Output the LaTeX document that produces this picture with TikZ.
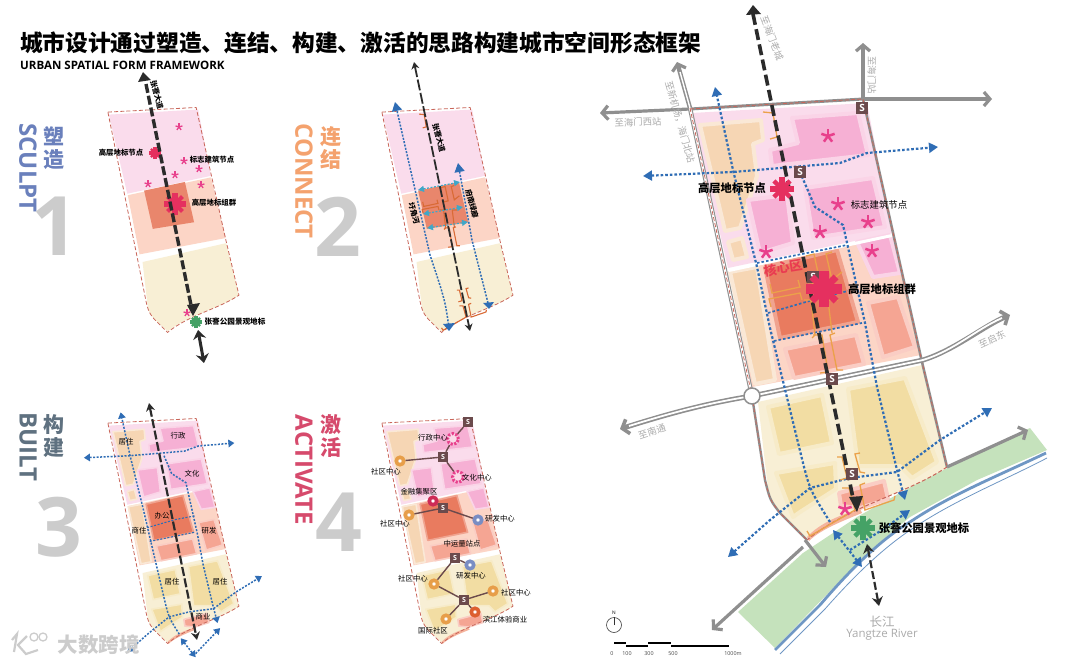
\documentclass[tikz,border=0pt]{standalone}
\usepackage{fontspec}
\setmainfont{Open Sans}
\newfontfamily\cjk{Noto Sans CJK SC}
\usetikzlibrary{arrows.meta}
\definecolor{cPink}{HTML}{FADCEC}
\definecolor{cPeach}{HTML}{FCD5C6}
\definecolor{cCream}{HTML}{F8EFD5}
\definecolor{cCore}{HTML}{E9866C}
\definecolor{cBlue}{HTML}{2F6DB5}
\definecolor{cTeal}{HTML}{3FA7C8}
\definecolor{cRoad}{HTML}{8F8F8F}
\definecolor{cRed}{HTML}{C9665A}
\definecolor{cS}{HTML}{6B4A4C}
\definecolor{cHot}{HTML}{E5305F}
\definecolor{cStar}{HTML}{E8408C}
\definecolor{cGreen}{HTML}{45A266}
\definecolor{cRiver}{HTML}{C5E2BC}
\definecolor{cRiverB}{HTML}{6F97C4}
\definecolor{cAxis}{HTML}{2B2B2B}
\definecolor{cGreyT}{HTML}{ABABAB}
\definecolor{cNum}{HTML}{CCCCCC}
\definecolor{cOr}{HTML}{F6D6B4}
\definecolor{cHotP}{HTML}{F6B0D4}
\definecolor{cCoreD}{HTML}{E97B5F}
\definecolor{cSal}{HTML}{F5A593}
\definecolor{cYel}{HTML}{F2DDA3}
\definecolor{cSc}{HTML}{6A80BC}
\definecolor{cCo}{HTML}{F4A26E}
\definecolor{cBu}{HTML}{5F7180}
\definecolor{cAc}{HTML}{D64A6C}
\definecolor{cBrk}{HTML}{EBA14A}
\definecolor{cBrkD}{HTML}{D96A35}
\tikzset{
  blueline/.style={draw=cBlue,line width=2.2pt,dash pattern=on 2.6pt off 2pt},
  blueend/.style={-{Triangle[length=9pt,width=10pt]}},
  bluetwo/.style={{Triangle[length=9pt,width=10pt]}-{Triangle[length=9pt,width=10pt]}},
  thinblue/.style={draw=cBlue,line width=1.1pt,dash pattern=on 2pt off 1.6pt},
  axisline/.style={draw=cAxis,line width=3.6pt,dash pattern=on 11pt off 4.5pt},
  roadbarb/.style={draw=cRoad,line width=3.2pt,-{Straight Barb[length=6pt,width=14pt,line width=3.2pt]}},
  outlinered/.style={draw=cRed,line width=.8pt,dash pattern=on 4pt off 2.2pt},
  brk/.style={draw=cBrk,line width=1.3pt},
  sbadge/.style={fill=cS,text=white,font=\bfseries\fontsize{7}{7}\selectfont,minimum size=10pt,inner sep=0pt},
  sbadgeb/.style={fill=cS,text=white,font=\bfseries\fontsize{10}{10}\selectfont,minimum size=12.5pt,inner sep=0pt},
  lbl/.style={font=\cjk\fontsize{7.4}{7.4}\selectfont,inner sep=0pt,text=black},
  lblb/.style={font=\cjk\bfseries\fontsize{7.4}{7.4}\selectfont,inner sep=0pt,text=black},
  lblmain/.style={font=\cjk\bfseries\fontsize{11.3}{11.3}\selectfont,inner sep=0pt,text=black},
  greyl/.style={font=\cjk\fontsize{9.4}{9.4}\selectfont,inner sep=0pt,text=cGreyT},
  headcn/.style={font=\cjk\bfseries\fontsize{21}{23}\selectfont,inner sep=0pt,align=center},
  headen/.style={font=\bfseries\fontsize{24}{24}\selectfont,inner sep=0pt,rotate=-90},
  bignum/.style={font=\bfseries\fontsize{82}{82}\selectfont,inner sep=0pt,text=cNum},
  ringc/.style={circle,draw=#1,line width=3.6pt,fill=white,minimum size=7.5pt,inner sep=0pt},
  ringd/.style={circle,draw=#1,line width=3pt,dash pattern=on 2.2pt off 1.6pt,fill=#1!20,minimum size=11pt,inner sep=0pt},
  link/.style={draw=cS,line width=1.4pt},
}
% map shape in main-map coordinates
\newcommand\mapshape{(690,108) -- (863,99) -- (922,362) -- (947,467) .. controls (905,495) and (850,505) .. (807,540) -- (780,513) .. controls (770,500) .. (765,480) -- cycle}
\newcommand\zonesbase{%
  \fill[cPink] (692,113) -- (867,103) -- (892,233) -- (728,268) -- cycle;
  \fill[cPeach] (729,271) -- (892,236) -- (921,355) -- (752,387) -- cycle;
  \fill[cCream] (758,402) -- (922,365) -- (947,467) .. controls (905,495) and (850,505) .. (807,538) -- (780,513) .. controls (770,500) .. (767,480) -- cycle;
}
\newcommand\coreblock{\fill[cCore] (761,262) -- (841,245) -- (859,324) -- (778,337) -- cycle;}
\newcommand\zonesdetail[1]{%
  \begin{scope}[line width=#1,line join=round]
  \filldraw[fill=cOr,draw=cOr!55!white] (700,125) -- (761,120) -- (763,140) -- (753,144) -- (757,176) -- (740,228) -- (725,231) -- cycle;
  \filldraw[fill=cOr,draw=cOr!55!white] (728,242) -- (742,238) -- (747,257) -- (733,260) -- cycle;
  \filldraw[fill=cOr,draw=cOr!55!white] (730,272) -- (757,267) -- (775,380) -- (755,384) -- cycle;
  \filldraw[fill=cHotP,draw=cHotP!55!white] (770,150) -- (798,143) -- (792,118) -- (858,113) -- (868,155) -- (772,166) -- cycle;
  \filldraw[fill=cHotP,draw=cHotP!55!white] (748,200) -- (787,195) -- (793,243) -- (760,253) -- cycle;
  \filldraw[fill=cHotP,draw=cHotP!55!white] (805,188) -- (873,178) -- (885,227) -- (813,238) -- cycle;
  \filldraw[fill=cHotP,draw=cHotP!55!white] (857,242) -- (890,235) -- (900,273) -- (873,277) -- cycle;
  \filldraw[fill=cCoreD,draw=cCoreD!70!white] (765,267) -- (837,250) -- (858,322) -- (780,338) -- cycle;
  \filldraw[fill=cSal,draw=cSal!55!white] (785,349) -- (856,335) -- (864,364) -- (794,378) -- cycle;
  \filldraw[fill=cSal,draw=cSal!55!white] (868,303) -- (898,297) -- (915,347) -- (883,357) -- cycle;
  \filldraw[fill=cYel,draw=cYel!60!white] (768,407) -- (822,395) -- (832,443) -- (779,454) -- cycle;
  \filldraw[fill=cYel,draw=cYel!60!white] (848,389) -- (905,378) -- (937,462) -- (912,478) -- (900,466) -- (858,466) -- cycle;
  \filldraw[fill=cYel,draw=cYel!60!white] (776,473) -- (835,463) -- (836,489) -- (800,512) -- (793,517) -- cycle;
  \filldraw[fill=cSal,draw=cSal!55!white] (839,493) -- (884,481) -- (888,499) -- (860,508) -- (841,506) -- cycle;
  \end{scope}
  \fill[cSal!70!cOr] (807,537) .. controls (820,523) and (840,515) .. (860,509) -- (862,513) .. controls (840,522) and (820,530) .. (809,541) -- cycle;
}
\newcommand\bracketset{%
  \draw[brk] (763,112) -- (773,113) -- (777,137) -- (770,139);
  \draw[brk] (813,335) -- (822,335) -- (828,372) -- (820,373);
  \draw[brk] (835,333) -- (830,335) -- (837,370) -- (843,370);
  \draw[brk] (837,457) -- (842,457) -- (847,478) -- (840,480);
  \draw[brk] (860,453) -- (855,454) -- (860,472) -- (865,473);
  \draw[brk] (842,488) -- (849,488) -- (855,510) -- (810,536) -- (807,531);
  \draw[brk] (865,483) -- (860,485) -- (865,510) -- (894,500) -- (895,496);
  \draw[brk] (770,284) -- (772,293) -- (800,287) -- (798,280);
  \draw[brk] (771,307) -- (769,299) -- (800,293) -- (802,300);
  \draw[brk] (806,256) -- (814,254) -- (820,282) -- (812,284);
  \draw[brk] (832,252) -- (826,254) -- (832,280) -- (842,272);
  \draw[brk] (804,300) -- (811,300) -- (815,335) -- (812,338);
  \draw[brk] (838,300) -- (828,300) -- (832,333);
}
\newcommand\pstar[4]{\foreach \a in {-90,-18,54,126,198}{\draw[#4,line width=#3*0.36pt] (#1,#2) -- ++(\a:#3);}}
\newcommand\pcross[4]{%
  \foreach \a in {0,90}{\draw[#4,line width=#3*0.55pt] (#1,#2) ++(\a:#3) -- ++(\a+180:2*#3);}
  \foreach \a in {45,135}{\draw[#4,line width=#3*0.38pt] (#1,#2) ++(\a:0.95*#3) -- ++(\a+180:1.9*#3);}
}
\begin{document}
\begin{tikzpicture}[x=1pt,y=-1pt]
\useasboundingbox[fill=white] (0,0) rectangle (1080,664);

% ------------ headings
\node[anchor=west,font=\cjk\bfseries\fontsize{22.7}{22.7}\selectfont,inner sep=0pt] (title) at (20,43) {城市设计通过塑造、连结、构建、激活的思路构建城市空间形态框架};
\node[anchor=west,font=\bfseries\fontsize{11.55}{11.55}\selectfont,inner sep=0pt] (subtitle) at (20,65) {URBAN SPATIAL FORM FRAMEWORK};

\node[headcn,text=cSc] (h1a) at (54,148) {塑\\造};
\node[headen,text=cSc] (h1b) at (28,168) {SCULPT};
\node[bignum] (n1) at (55,226) {1};
\node[headcn,text=cCo] (h2a) at (331,148) {连\\结};
\node[headen,text=cCo] (h2b) at (304,181) {CONNECT};
\node[bignum] (n2) at (338,227) {2};
\node[headcn,text=cBu] (h3a) at (54,436) {构\\建};
\node[headen,text=cBu] (h3b) at (28,447) {BUILT};
\node[bignum] (n3) at (59,527) {3};
\node[headcn,text=cAc] (h4a) at (331,436) {激\\活};
\node[headen,text=cAc] (h4b) at (304,470) {ACTIVATE};
\node[bignum] (n4) at (339,522) {4};

% ------------ PANEL 1
\begin{scope}[shift={(-244,57)},scale=.51]
  \zonesbase \coreblock
  \draw[outlinered] \mapshape;
\end{scope}
\foreach \x/\y in {179/127,184/161,199/169,175/175,148/184,201/185,187/313}{\pstar{\x}{\y}{3.6}{cStar}}
\pcross{155}{153}{6}{cHot}
\pcross{175}{204}{11}{cHot}
\pcross{196}{322}{6}{cGreen}
\draw[axisline,line width=3.4pt,dash pattern=on 9pt off 3pt] (146,84) -- (191,305);
\fill[cAxis] (143,72) -- (151,80) -- (138,82) -- cycle;
\fill[cAxis] (193,316) -- (187,305) -- (200,303) -- cycle;
\draw[cAxis,line width=3pt,{Stealth[length=9pt,width=13pt]}-{Stealth[length=9pt,width=13pt]}] (198,330) -- (204,363);
\node[lblb,rotate=-75] (t1a) at (157,95) {张謇大道};
\node[lblb] (t1b) at (121,153) {高层地标节点};
\node[lblb] (t1c) at (212,160) {标志建筑节点};
\node[lblb] (t1d) at (214,203) {高层地标组群};
\node[lblb,font=\cjk\bfseries\fontsize{7.6}{7.6}\selectfont] (t1e) at (235,322) {张謇公园景观地标};

% ------------ PANEL 2
\begin{scope}[shift={(30,57)},scale=.51]
  \zonesbase \coreblock
  \draw[outlinered] \mapshape;
  \begin{scope}[brk/.style={draw=cBrkD,line width=1.1pt}]
    \bracketset
  \end{scope}
\end{scope}
\draw[axisline,line width=1.8pt,dash pattern=on 11pt off 2.6pt,{Stealth[length=7pt,width=8pt]}-{Stealth[length=7pt,width=8pt]}] (414,62) -- (470,331);
\draw[blueline,line width=1.5pt,dash pattern=on 2pt off 1.4pt,blueend] (449,328) .. controls (445,300) .. (430,255) -- (395,102);
\draw[blueline,line width=1.5pt,dash pattern=on 2pt off 1.4pt,blueend] (488,303) -- (472,240) -- (458,163);
\fill[cBlue] (449,331) -- (443,324) -- (455,323) -- cycle;
\fill[cBlue] (489,309) -- (483,303) -- (494,302) -- cycle;
\foreach \xa/\ya/\xb/\yb in {418/190/460/182,423/214/463/207,427/228/468/222}{
  \draw[cTeal,line width=1.2pt,dash pattern=on 2pt off 1.5pt,{Triangle[length=6pt,width=6pt]}-{Triangle[length=6pt,width=6pt]}] (\xa,\ya) -- (\xb,\yb);}
\node[lblb,rotate=-75] (t2a) at (439,138) {张謇大道};
\node[lblb,rotate=-75] (t2b) at (472,204) {府南绿廊};
\node[lblb,rotate=-75] (t2c) at (414,213) {圩角河};

% ------------ PANEL 3
\begin{scope}[shift={(-244,368)},scale=.51]
  \zonesbase
  \zonesdetail{1.6pt}
  \draw[outlinered] \mapshape;
\end{scope}
\begin{scope}[shift={(-244,368)},scale=.51,blueline/.append style={line width=1.5pt,dash pattern=on 2pt off 1.5pt},
  blueend/.style={-{Triangle[length=6pt,width=7.5pt]}},bluetwo/.style={{Triangle[length=6pt,width=7.5pt]}-{Triangle[length=6pt,width=7.5pt]}}]
  \draw[blueline,blueend] (830,522) .. controls (810,490) .. (803,463) -- (757,267) -- (733,170) -- (715,87) ;
  \draw[blueline,blueend] (800,172) -- (815,207) -- (843,225) -- (865,323) -- (877,387) -- (897,470) -- (905,500);
  \draw[blueline,bluetwo] (643,176) -- (733,172) -- (840,163) -- (867,153) -- (938,147);
  \draw[blueline,bluetwo] (728,557) -- (770,520) -- (810,488) -- (850,478) -- (897,472) -- (940,440) -- (992,408);
  \draw[blueline,bluetwo] (833,530) -- (862,567);
  \draw[blueline,blueend] (862,560) -- (910,510);
  \draw[thinblue] (767,313) -- (823,297) -- (860,290);
  \draw[thinblue] (772,340) -- (860,322);
\end{scope}
\draw[axisline,line width=2.2pt,dash pattern=on 9pt off 2.6pt,{Stealth[length=8pt,width=9pt]}-{Stealth[length=8pt,width=9pt]}] (149,403) -- (197,640);
\node[lbl] (t3a) at (178,436) {行政};
\node[lbl] (t3b) at (126,442) {居住};
\node[lbl] (t3c) at (192,474) {文化};
\node[lbl] (t3d) at (162,516) {办公};
\node[lbl] (t3e) at (139,531) {商住};
\node[lbl] (t3f) at (209,531) {研发};
\node[lbl] (t3g) at (172,582) {居住};
\node[lbl] (t3h) at (220,582) {居住};
\node[lbl] (t3i) at (203,617) {商业};

% ------------ PANEL 4
\begin{scope}[shift={(30,368)},scale=.51]
  \zonesbase
  \zonesdetail{1.6pt}
  \draw[outlinered] \mapshape;
\end{scope}
\node[sbadge] (s1) at (468,422) {S};
\node[sbadge] (s2) at (443,457) {S};
\node[sbadge] (s3) at (443,508) {S};
\node[sbadge] (s4) at (455,558) {S};
\node[sbadge] (s5) at (464,600) {S};
\node[ringd=cStar] (r1) at (453,439) {};
\node[ringd=cStar] (r2) at (458,477) {};
\node[ringc=cBrk!90!brown] (r3) at (400,461) {};
\node[ringc=cHot!90!black] (r4) at (433,501) {};
\node[ringc=cBrk!90!brown] (r5) at (409,515) {};
\node[ringc=cSc!90!white] (r6) at (478,520) {};
\node[ringc=cSc!90!white] (r7) at (470,565) {};
\node[ringc=cBrk!90!brown] (r8) at (434,584) {};
\node[ringc=cBrk!90!brown] (r9) at (493,591) {};
\node[ringc=cBrkD!90!red] (r10) at (475,612) {};
\node[ringc=cBrk!90!brown] (r11) at (446,619) {};
\draw[link] (s1) -- (r1);
\draw[link] (r1) -- (s2);
\draw[link] (s2) -- (r3);
\draw[link] (s2) -- (r2);
\draw[link] (s3) -- (r4);
\draw[link] (s3) -- (r5);
\draw[link] (s3) -- (r6);
\draw[link] (s4) -- (r7);
\draw[link] (s4) -- (r8);
\draw[link] (r8) -- (s5);
\draw[link] (s5) -- (r9);
\draw[link] (s5) -- (r10);
\draw[link] (s5) -- (r11);
\node[lbl] (t4a) at (433,438) {行政中心};
\node[lbl] (t4b) at (386,472) {社区中心};
\node[lbl] (t4c) at (477,478) {文化中心};
\node[lbl] (t4d) at (419,492) {金融集聚区};
\node[lbl] (t4e) at (395,524) {社区中心};
\node[lbl] (t4f) at (500,519) {研发中心};
\node[lbl] (t4g) at (462,544) {中运量站点};
\node[lbl] (t4h) at (471,576) {研发中心};
\node[lbl] (t4i) at (413,579) {社区中心};
\node[lbl] (t4j) at (516,593) {社区中心};
\node[lbl] (t4k) at (505,620) {滨江体验商业};
\node[lbl] (t4l) at (433,631) {国际社区};

% ------------ watermark
\begin{scope}[draw=cNum,line width=2.2pt]
  \draw (12,640) -- (17,634) -- (14,652) ;
  \draw (27,636) -- (18,645) -- (26,654) -- (38,650);
  \draw[line width=1.3pt] (34,637) circle (4);
  \draw[line width=1.3pt] (43,637) circle (4);
\end{scope}
\node[font=\cjk\bfseries\fontsize{20.5}{20.5}\selectfont,text=cNum,inner sep=0pt] (wm) at (98.5,645) {大数跨境};

% ------------ MAIN MAP
\fill[cRiver] (738,612) -- (803,553) -- (857,517) -- (923,480) -- (1030,428) -- (1047,450) -- (977,480) -- (910,517) -- (867,553) -- (775,648) -- cycle;
\draw[cRiverB,line width=2.8pt] (775,650) -- (820,605) .. controls (850,570) and (880,540) .. (910,522) .. controls (950,495) and (1000,475) .. (1046,453);
\draw[cRiverB,line width=.8pt] (780,654) -- (825,609) .. controls (855,575) and (885,546) .. (915,527) .. controls (955,500) and (1005,480) .. (1047,458);

\zonesbase
\zonesdetail{4pt}
\fill[white] (727,269) -- (892,234) -- (892,237) -- (729,272) -- cycle;

% roads
\draw[roadbarb] (690,109) -- (600,113);
\draw[roadbarb] (863,99) -- (992,99);
\draw[roadbarb] (863,99) -- (863,43);
\draw[cRoad,line width=3pt] (690,109) -- (863,99);
\draw[roadbarb,line width=4.4pt] (690,108) -- (677,62);
\draw[white,line width=1.4pt] (690,108) -- (680,72);
\draw[cRoad,line width=4.4pt] (690,108) -- (752,396);
\draw[white,line width=2.2pt] (690,108) -- (752,396);
\draw[cRed,line width=.8pt,dash pattern=on 4pt off 2.2pt] (690,108) -- (752,396);
\draw[cRoad,line width=2.4pt] (752,396) -- (765,480) .. controls (770,500) .. (780,513) -- (807,540);
\draw[cRoad,line width=2.6pt] (863,99) -- (922,362) -- (947,467);
\draw[cRed,line width=.8pt,dash pattern=on 4pt off 2.2pt] (690,109) -- (863,99) -- (922,362) -- (947,467);
\draw[cRed,line width=.8pt,dash pattern=on 4pt off 2.2pt] (752,396) -- (765,480) .. controls (770,500) .. (780,513) -- (807,540);
\draw[cRed,line width=1pt,dash pattern=on 4pt off 2.2pt] (947,467) .. controls (905,495) and (850,505) .. (807,540);
\draw[roadbarb] (947,467) -- (1028,430);
\draw[roadbarb] (805,540) -- (826,567);
\draw[roadbarb] (803,547) -- (712,630);
% east-west road (double)
\draw[cRoad,line width=5pt,-{Straight Barb[length=6pt,width=15pt,line width=3.6pt]}] (752,396) .. controls (715,402) and (680,410) .. (620,429);
\draw[cRoad,line width=5pt,-{Straight Barb[length=6pt,width=15pt,line width=3.6pt]}] (752,396) -- (923,360) .. controls (955,350) and (985,325) .. (1010,315);
\draw[white,line width=1.8pt] (752,396) .. controls (715,402) and (680,410) .. (629,426);
\draw[white,line width=1.8pt] (752,396) -- (923,360) .. controls (955,350) and (975,330) .. (1002,318);
\node[circle,draw=cRoad,line width=1.5pt,fill=white,minimum size=16pt,inner sep=0pt] (rb) at (752,396) {};

% blue dotted
\draw[blueline,blueend] (830,522) .. controls (810,490) .. (803,463) -- (770,328) -- (757,267) -- (733,170) -- (715,87);
\draw[blueline,blueend] (800,172) -- (815,207) -- (843,225) -- (865,323) -- (877,387) -- (897,470) -- (905,500);
\draw[blueline,bluetwo] (643,176) -- (733,172) -- (840,163) -- (867,153) -- (938,147);
\draw[blueline,bluetwo] (728,557) -- (770,520) -- (810,488) -- (850,478) -- (897,472) -- (940,440) -- (992,408);
\draw[blueline,bluetwo] (833,530) -- (862,567);
\draw[blueline,blueend] (850,550) -- (882,530) -- (910,510);
\draw[blueline,line width=1.7pt] (757,263) -- (847,245);
\draw[blueline,line width=1.7pt] (768,313) -- (823,297) -- (848,291);
\draw[blueline,line width=1.7pt] (774,341) -- (862,323);

% brackets
\bracketset

% axis
\draw[axisline] (753,14) -- (853,498);
\fill[cAxis] (753,5) -- (761,14) -- (746,15) -- cycle;
\fill[cAxis] (857,512) -- (849,497) -- (863,496) -- cycle;
\draw[cAxis,line width=2.2pt,dash pattern=on 8pt off 3pt,{Stealth[length=9pt,width=11pt]}-{Stealth[length=9pt,width=11pt]}] (867,544) -- (879,606);

% S badges
\node[sbadgeb] (m1) at (862,108) {S};
\node[sbadgeb] (m2) at (800,172) {S};
\node[sbadgeb] (m3) at (813,277) {S};
\node[sbadgeb] (m4) at (832,379) {S};
\node[sbadgeb] (m5) at (852,474) {S};

% marks
\foreach \x/\y in {828/136,838/204,868/222,820/232,766/252,872/251,845/509}{\pstar{\x}{\y}{7}{cStar}}
\pcross{782}{189}{12}{cHot}
\pcross{824}{289}{18}{cHot}
\pcross{863}{528}{12}{cGreen}

% labels
\node[lblmain] (l1) at (732,188) {高层地标节点};
\node[font=\cjk\fontsize{9.4}{9.4}\selectfont,inner sep=0pt] (l2) at (879,205) {标志建筑节点};
\node[lblmain] (l3) at (882,289) {高层地标组群};
\node[lblmain] (l4) at (924,528) {张謇公园景观地标};
\node[font=\cjk\bfseries\fontsize{13}{13}\selectfont,text=cHot!85!orange,rotate=9,inner sep=0pt] (l5) at (783,268) {核心区};
\node[greyl,rotate=-69] (g1) at (772,38) {至海门老城};
\node[greyl,rotate=-90] (g2) at (872,75) {至海门站};
\node[greyl,rotate=2] (g3) at (638,122) {至海门西站};
\node[greyl,rotate=-74] (g4) at (680,122) {至新机场，海门北站};
\node[greyl,rotate=25] (g5) at (992,339) {至启东};
\node[greyl,rotate=18] (g6) at (652,432) {至南通};
\node[font=\cjk\fontsize{12.5}{12.5}\selectfont,text=cGreyT,inner sep=0pt] (g7) at (882,622) {长江};
\node[font=\fontsize{11.5}{11.5}\selectfont,text=cGreyT,inner sep=0pt] (g8) at (882,634.5) {Yangtze River};

% compass + scale
\node[circle,draw=black!75,line width=.6pt,minimum size=15pt,inner sep=0pt] (comp) at (614,625) {};
\draw[black!80,line width=1pt] (comp.center) -- (comp.north);
\node[font=\fontsize{4.8}{4.8}\selectfont,inner sep=0pt] (cn) at (614,613) {N};
\draw[black,line width=1.2pt] (614,643) -- (626,643);
\draw[black,line width=1.2pt] (626,646) -- (648,646);
\draw[black,line width=1.2pt] (648,643) -- (671,643);
\draw[black,line width=1.2pt] (671,646) -- (729,646);
\foreach \x/\s [count=\i] in {612/0,627/100,649/300,673/500,733/1000m}{
  \node[font=\fontsize{5.4}{5.4}\selectfont,text=black!70,inner sep=0pt] (sc\i) at (\x,654) {\s};}
\end{tikzpicture}
\end{document}
